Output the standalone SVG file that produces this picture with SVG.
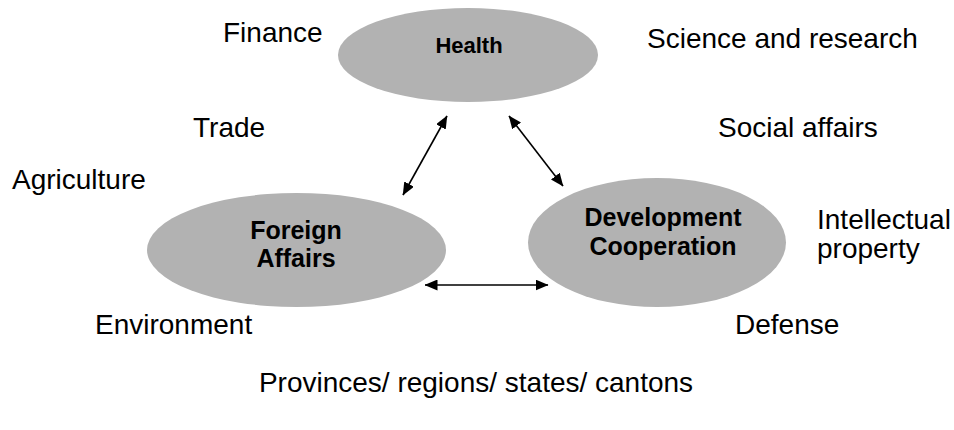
<svg xmlns="http://www.w3.org/2000/svg" width="954" height="430" viewBox="0 0 954 430">
<style>
.node{fill:#b2b2b2;stroke:none}
.lbl{font-family:"Liberation Sans",Arial,sans-serif;font-weight:bold;font-size:25px;fill:#000;text-anchor:middle}
.txt{font-family:"Liberation Sans",Arial,sans-serif;font-size:28px;fill:#000}
.conn{stroke:#000;stroke-width:1.6;fill:none;marker-start:url(#ah);marker-end:url(#ah)}
</style>
<defs>
<marker id="ah" viewBox="0 0 13 11" refX="12.5" refY="5.5" markerWidth="13" markerHeight="11" markerUnits="userSpaceOnUse" orient="auto-start-reverse">
<path d="M0,0 L13,5.5 L0,11 z" fill="#000"/>
</marker>
</defs>
<rect width="954" height="430" fill="#fff"/>
<g id="health">
<ellipse class="node" cx="468" cy="55" rx="130" ry="47"/>
<text class="lbl" x="469" y="53" style="font-size:22px">Health</text>
</g>
<g id="foreign-affairs">
<ellipse class="node" cx="296.5" cy="250" rx="149.5" ry="57"/>
<text class="lbl" x="296" y="239">Foreign</text>
<text class="lbl" x="296" y="267">Affairs</text>
</g>
<g id="development-cooperation">
<ellipse class="node" cx="657" cy="242.5" rx="129" ry="64.5"/>
<text class="lbl" x="663" y="226">Development</text>
<text class="lbl" x="663" y="255">Cooperation</text>
</g>
<g id="connectors">
<line class="conn" x1="447" y1="116" x2="403" y2="195"/>
<line class="conn" x1="509" y1="116" x2="563" y2="186"/>
<line class="conn" x1="425" y1="285" x2="548" y2="285"/>
</g>
<g id="labels">
<text class="txt" x="223" y="42">Finance</text>
<text class="txt" x="647" y="48">Science and research</text>
<text class="txt" x="193" y="137">Trade</text>
<text class="txt" x="718" y="137">Social affairs</text>
<text class="txt" x="12" y="189">Agriculture</text>
<text class="txt" x="817" y="229">Intellectual</text>
<text class="txt" x="817" y="258">property</text>
<text class="txt" x="95" y="334">Environment</text>
<text class="txt" x="735" y="334">Defense</text>
<text class="txt" x="476" y="392" text-anchor="middle">Provinces/ regions/ states/ cantons</text>
</g>
</svg>
